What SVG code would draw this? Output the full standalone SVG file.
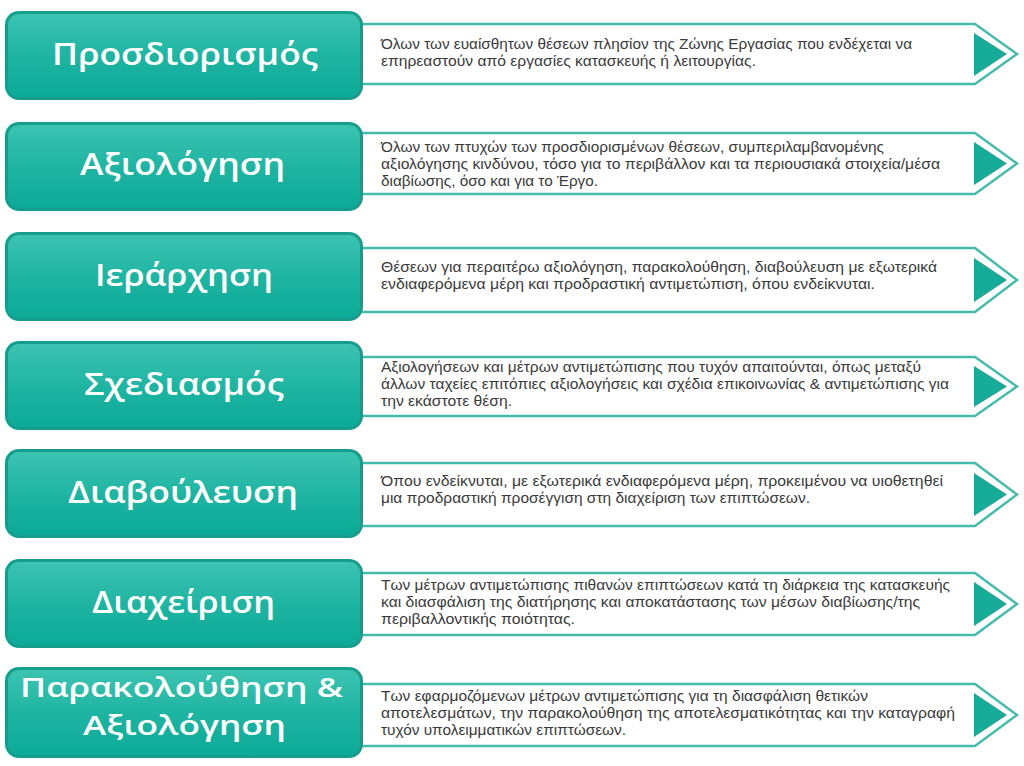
<svg xmlns="http://www.w3.org/2000/svg" width="1024" height="766" viewBox="0 0 1024 766">
<defs>
<linearGradient id="boxGrad" x1="0" y1="0" x2="0" y2="1">
<stop offset="0" stop-color="#3cc3b2"/>
<stop offset="0.55" stop-color="#1db3a1"/>
<stop offset="1" stop-color="#0caa98"/>
</linearGradient>
<style>
.rim{fill:#179d8d}
.inner{fill:url(#boxGrad)}
.title{font-family:"Open Sans","Liberation Sans",sans-serif;font-weight:600;font-size:31px;fill:#ffffff;text-anchor:middle}
.title2{font-size:27.5px}
.outline{fill:#ffffff;stroke:#45bcab;stroke-width:2.5;stroke-linejoin:miter}
.tri{fill:#17ab9a}
.desc{font-family:"Liberation Sans","Arial",sans-serif;font-size:14px;fill:#3a3a3a}
</style>
</defs>
<rect width="1024" height="766" fill="#ffffff"/>
<g id="connectors"/>

<g id="arrow1">
<path class="outline" d="M355,24 H975 L1017,54 L975,84 H355 Z"/>
<path class="tri" d="M974,33 L1007,54 L974,76 Z"/>
<text class="desc" x="381" y="49" textLength="531" lengthAdjust="spacingAndGlyphs">Όλων των ευαίσθητων θέσεων πλησίον της Ζώνης Εργασίας που ενδέχεται να</text>
<text class="desc" x="381" y="66" textLength="375" lengthAdjust="spacingAndGlyphs">επηρεαστούν από εργασίες κατασκευής ή λειτουργίας.</text>
</g>
<g id="arrow2">
<path class="outline" d="M355,133 H975 L1017,163.5 L975,194 H355 Z"/>
<path class="tri" d="M974,142 L1007,163.5 L974,185 Z"/>
<text class="desc" x="381" y="152" textLength="503" lengthAdjust="spacingAndGlyphs">Όλων των πτυχών των προσδιορισμένων θέσεων, συμπεριλαμβανομένης</text>
<text class="desc" x="381" y="169" textLength="559" lengthAdjust="spacingAndGlyphs">αξιολόγησης κινδύνου, τόσο για το περιβάλλον και τα περιουσιακά στοιχεία/μέσα</text>
<text class="desc" x="381" y="186" textLength="217" lengthAdjust="spacingAndGlyphs">διαβίωσης, όσο και για το Έργο.</text>
</g>
<g id="arrow3">
<path class="outline" d="M355,248 H975 L1017,280 L975,312 H355 Z"/>
<path class="tri" d="M974,258 L1007,280 L974,302 Z"/>
<text class="desc" x="381" y="272" textLength="556" lengthAdjust="spacingAndGlyphs">Θέσεων για περαιτέρω αξιολόγηση, παρακολούθηση, διαβούλευση με εξωτερικά</text>
<text class="desc" x="381" y="289" textLength="494" lengthAdjust="spacingAndGlyphs">ενδιαφερόμενα μέρη και προδραστική αντιμετώπιση, όπου ενδείκνυται.</text>
</g>
<g id="arrow4">
<path class="outline" d="M355,357 H975 L1017,386.5 L975,416 H355 Z"/>
<path class="tri" d="M974,366 L1007,386.5 L974,407 Z"/>
<text class="desc" x="381" y="372" textLength="540" lengthAdjust="spacingAndGlyphs">Αξιολογήσεων και μέτρων αντιμετώπισης που τυχόν απαιτούνται, όπως μεταξύ</text>
<text class="desc" x="381" y="389" textLength="568" lengthAdjust="spacingAndGlyphs">άλλων ταχείες επιτόπιες αξιολογήσεις και σχέδια επικοινωνίας &amp; αντιμετώπισης για</text>
<text class="desc" x="381" y="406" textLength="131" lengthAdjust="spacingAndGlyphs">την εκάστοτε θέση.</text>
</g>
<g id="arrow5">
<path class="outline" d="M355,463 H975 L1017,494.5 L975,526 H355 Z"/>
<path class="tri" d="M974,473 L1007,494.5 L974,516 Z"/>
<text class="desc" x="381" y="486" textLength="562" lengthAdjust="spacingAndGlyphs">Όπου ενδείκνυται, με εξωτερικά ενδιαφερόμενα μέρη, προκειμένου να υιοθετηθεί</text>
<text class="desc" x="381" y="503" textLength="429" lengthAdjust="spacingAndGlyphs">μια προδραστική προσέγγιση στη διαχείριση των επιπτώσεων.</text>
</g>
<g id="arrow6">
<path class="outline" d="M355,573 H975 L1017,604 L975,635 H355 Z"/>
<path class="tri" d="M974,582 L1007,604 L974,626 Z"/>
<text class="desc" x="381" y="590" textLength="569" lengthAdjust="spacingAndGlyphs">Των μέτρων αντιμετώπισης πιθανών επιπτώσεων κατά τη διάρκεια της κατασκευής</text>
<text class="desc" x="381" y="607" textLength="539" lengthAdjust="spacingAndGlyphs">και διασφάλιση της διατήρησης και αποκατάστασης των μέσων διαβίωσης/της</text>
<text class="desc" x="381" y="624" textLength="194" lengthAdjust="spacingAndGlyphs">περιβαλλοντικής ποιότητας.</text>
</g>
<g id="arrow7">
<path class="outline" d="M355,684 H975 L1017,715 L975,746 H355 Z"/>
<path class="tri" d="M974,693 L1007,715 L974,737 Z"/>
<text class="desc" x="381" y="701" textLength="487" lengthAdjust="spacingAndGlyphs">Των εφαρμοζόμενων μέτρων αντιμετώπισης για τη διασφάλιση θετικών</text>
<text class="desc" x="381" y="718" textLength="574" lengthAdjust="spacingAndGlyphs">αποτελεσμάτων, την παρακολούθηση της αποτελεσματικότητας και την καταγραφή</text>
<text class="desc" x="381" y="735" textLength="245" lengthAdjust="spacingAndGlyphs">τυχόν υπολειμματικών επιπτώσεων.</text>
</g>

<g id="box1">
<rect class="rim" x="5" y="11" width="358" height="89" rx="14"/>
<rect class="inner" x="8" y="14" width="352" height="83" rx="11"/>
<text class="title" x="185" y="65" textLength="266" lengthAdjust="spacingAndGlyphs">Προσδιορισμός</text>
</g>
<g id="box2">
<rect class="rim" x="5" y="122" width="358" height="89" rx="14"/>
<rect class="inner" x="8" y="125" width="352" height="83" rx="11"/>
<text class="title" x="182.5" y="175" textLength="205" lengthAdjust="spacingAndGlyphs">Αξιολόγηση</text>
</g>
<g id="box3">
<rect class="rim" x="5" y="232" width="358" height="89" rx="14"/>
<rect class="inner" x="8" y="235" width="352" height="83" rx="11"/>
<text class="title" x="184" y="286" textLength="178" lengthAdjust="spacingAndGlyphs">Ιεράρχηση</text>
</g>
<g id="box4">
<rect class="rim" x="5" y="341" width="358" height="89" rx="14"/>
<rect class="inner" x="8" y="344" width="352" height="83" rx="11"/>
<text class="title" x="184" y="395" textLength="200" lengthAdjust="spacingAndGlyphs">Σχεδιασμός</text>
</g>
<g id="box5">
<rect class="rim" x="5" y="449" width="358" height="89" rx="14"/>
<rect class="inner" x="8" y="452" width="352" height="83" rx="11"/>
<text class="title" x="183" y="503" textLength="230" lengthAdjust="spacingAndGlyphs">Διαβούλευση</text>
</g>
<g id="box6">
<rect class="rim" x="5" y="559" width="358" height="89" rx="14"/>
<rect class="inner" x="8" y="562" width="352" height="83" rx="11"/>
<text class="title" x="183.5" y="613" textLength="183" lengthAdjust="spacingAndGlyphs">Διαχείριση</text>
</g>
<g id="box7">
<rect class="rim" x="5" y="667" width="358" height="91" rx="14"/>
<rect class="inner" x="8" y="670" width="352" height="85" rx="11"/>
<text class="title title2" x="181.5" y="697" textLength="323" lengthAdjust="spacingAndGlyphs">Παρακολούθηση &amp;</text>
<text class="title title2" x="184.5" y="735" textLength="203" lengthAdjust="spacingAndGlyphs">Αξιολόγηση</text>
</g>
</svg>
